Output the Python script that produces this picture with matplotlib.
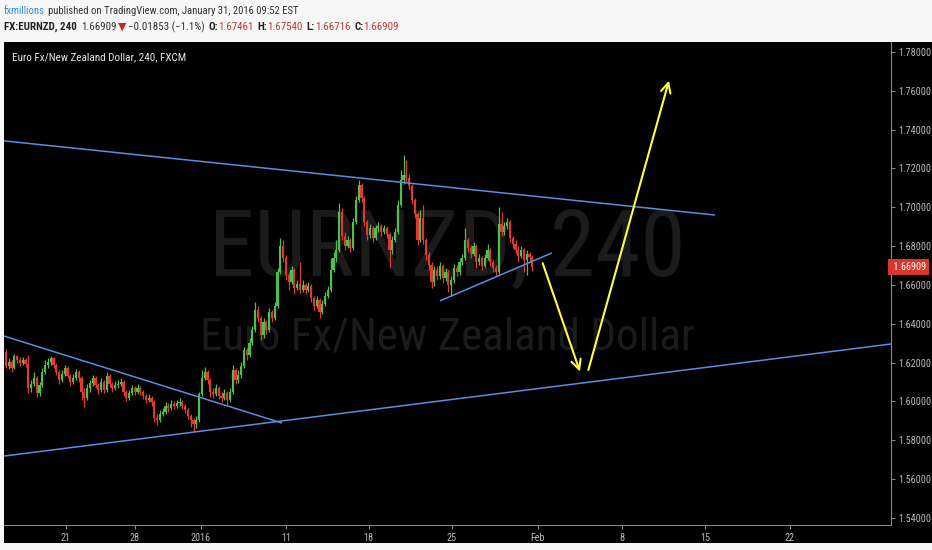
import matplotlib
matplotlib.use('Agg')
import matplotlib.pyplot as plt
import matplotlib.font_manager as fm
from matplotlib.transforms import blended_transform_factory

# ---------------- data ----------------
first_open = 1.6255
close = [
    1.6183, 1.6203, 1.6173, 1.6234, 1.6214, 1.6198, 1.6214, 1.6193, 1.6070, 1.6090,
    1.6121, 1.6044, 1.6085, 1.6152, 1.6188, 1.6203, 1.6224, 1.6188, 1.6152, 1.6111,
    1.6142, 1.6173, 1.6131, 1.6100, 1.6121, 1.6152, 1.6121, 1.6049, 1.6018, 1.6070,
    1.6095, 1.6121, 1.6085, 1.6059, 1.6100, 1.6059, 1.6131, 1.6090, 1.6070, 1.6085,
    1.6090, 1.6100, 1.6049, 1.6018, 1.6044, 1.6070, 1.6049, 1.6070, 1.6049, 1.6028,
    1.6008, 1.6018, 1.5997, 1.5915, 1.5905, 1.5936, 1.5946, 1.5977, 1.5967, 1.5987,
    1.5977, 1.5992, 1.5997, 1.5977, 1.5956, 1.5925, 1.5905, 1.5884, 1.5905, 1.6039,
    1.6121, 1.6152, 1.6111, 1.6049, 1.6039, 1.6070, 1.6028, 1.6018, 1.6044, 1.6008,
    1.6049, 1.6162, 1.6111, 1.6136, 1.6183, 1.6265, 1.6239, 1.6301, 1.6368, 1.6471,
    1.6430, 1.6342, 1.6409, 1.6368, 1.6461, 1.6430, 1.6492, 1.6667, 1.6801, 1.6739,
    1.6652, 1.6615, 1.6677, 1.6585, 1.6605, 1.6574, 1.6600, 1.6574, 1.6595, 1.6533,
    1.6492, 1.6523, 1.6461, 1.6502, 1.6543, 1.6574, 1.6677, 1.6739, 1.6780, 1.6976,
    1.6852, 1.6801, 1.6832, 1.6791, 1.6924, 1.7038, 1.7115, 1.7048, 1.6924, 1.6857,
    1.6894, 1.6842, 1.6894, 1.6904, 1.6873, 1.6894, 1.6863, 1.6780, 1.6832, 1.6873,
    1.7012, 1.7141, 1.7166, 1.7151, 1.7110, 1.7038, 1.6966, 1.6832, 1.6945, 1.6832,
    1.6754, 1.6703, 1.6615, 1.6677, 1.6646, 1.6698, 1.6636, 1.6667, 1.6600, 1.6626,
    1.6688, 1.6667, 1.6718, 1.6739, 1.6832, 1.6791, 1.6760, 1.6801, 1.6718, 1.6739,
    1.6698, 1.6739, 1.6780, 1.6718, 1.6688, 1.6667, 1.6914, 1.6873, 1.6904, 1.6924,
    1.6842, 1.6811, 1.6780, 1.6749, 1.6780, 1.6729, 1.6760, 1.67461, 1.66909,
]
high = [
    1.6270, 1.6224, 1.6214, 1.6245, 1.6239, 1.6229, 1.6229, 1.6224, 1.6239, 1.6111,
    1.6152, 1.6131, 1.6100, 1.6173, 1.6214, 1.6224, 1.6234, 1.6229, 1.6198, 1.6162,
    1.6162, 1.6188, 1.6183, 1.6142, 1.6142, 1.6167, 1.6162, 1.6131, 1.6070, 1.6090,
    1.6111, 1.6136, 1.6131, 1.6095, 1.6121, 1.6111, 1.6152, 1.6142, 1.6100, 1.6105,
    1.6111, 1.6121, 1.6111, 1.6059, 1.6059, 1.6085, 1.6080, 1.6090, 1.6080, 1.6059,
    1.6039, 1.6039, 1.6028, 1.6008, 1.5936, 1.5956, 1.5967, 1.5997, 1.5992, 1.6008,
    1.6003, 1.6008, 1.6018, 1.6008, 1.5987, 1.5967, 1.5936, 1.5915, 1.5925, 1.6049,
    1.6162, 1.6178, 1.6162, 1.6121, 1.6070, 1.6090, 1.6080, 1.6049, 1.6065, 1.6054,
    1.6070, 1.6188, 1.6173, 1.6162, 1.6203, 1.6281, 1.6275, 1.6327, 1.6389, 1.6512,
    1.6492, 1.6440, 1.6430, 1.6420, 1.6482, 1.6471, 1.6512, 1.6688, 1.6842, 1.6832,
    1.6754, 1.6667, 1.6698, 1.6688, 1.6626, 1.6718, 1.6626, 1.6610, 1.6615, 1.6605,
    1.6543, 1.6543, 1.6533, 1.6523, 1.6564, 1.6595, 1.6739, 1.6770, 1.6832, 1.7022,
    1.6997, 1.6873, 1.6852, 1.6842, 1.6945, 1.7058, 1.7141, 1.7125, 1.7058, 1.6935,
    1.6914, 1.6904, 1.6909, 1.6924, 1.6914, 1.6909, 1.6904, 1.6873, 1.6852, 1.6894,
    1.7038, 1.7192, 1.7270, 1.7244, 1.7172, 1.7120, 1.7048, 1.6976, 1.6986, 1.7012,
    1.6842, 1.6770, 1.6718, 1.6698, 1.6698, 1.6718, 1.6708, 1.6688, 1.6677, 1.6646,
    1.6708, 1.6703, 1.6739, 1.6760, 1.6894, 1.6842, 1.6806, 1.6821, 1.6811, 1.6760,
    1.6749, 1.6760, 1.6811, 1.6791, 1.6729, 1.6703, 1.7002, 1.6976, 1.6924, 1.6945,
    1.6935, 1.6852, 1.6832, 1.6801, 1.6801, 1.6791, 1.6780, 1.6770, 1.6754,
]
low = [
    1.6173, 1.6167, 1.6152, 1.6167, 1.6198, 1.6183, 1.6188, 1.6178, 1.6044, 1.6049,
    1.6080, 1.6023, 1.6028, 1.6075, 1.6142, 1.6173, 1.6188, 1.6173, 1.6136, 1.6090,
    1.6100, 1.6131, 1.6121, 1.6080, 1.6090, 1.6111, 1.6100, 1.6008, 1.5972, 1.6008,
    1.6049, 1.6080, 1.6070, 1.6039, 1.6049, 1.6044, 1.6049, 1.6075, 1.6049, 1.6059,
    1.6070, 1.6080, 1.6028, 1.6003, 1.6008, 1.6034, 1.6034, 1.6039, 1.6034, 1.6013,
    1.5992, 1.5997, 1.5977, 1.5894, 1.5879, 1.5894, 1.5925, 1.5936, 1.5946, 1.5956,
    1.5961, 1.5967, 1.5977, 1.5961, 1.5941, 1.5910, 1.5868, 1.5843, 1.5864, 1.5894,
    1.6028, 1.6111, 1.6090, 1.6023, 1.6018, 1.6028, 1.6013, 1.5997, 1.6008, 1.5982,
    1.5997, 1.6039, 1.6090, 1.6095, 1.6121, 1.6173, 1.6214, 1.6229, 1.6291, 1.6358,
    1.6409, 1.6317, 1.6327, 1.6348, 1.6358, 1.6409, 1.6420, 1.6482, 1.6657, 1.6718,
    1.6626, 1.6574, 1.6605, 1.6554, 1.6574, 1.6559, 1.6564, 1.6554, 1.6564, 1.6512,
    1.6471, 1.6482, 1.6430, 1.6451, 1.6492, 1.6533, 1.6564, 1.6667, 1.6718, 1.6770,
    1.6832, 1.6780, 1.6791, 1.6770, 1.6780, 1.6914, 1.7027, 1.7027, 1.6904, 1.6832,
    1.6842, 1.6821, 1.6832, 1.6873, 1.6852, 1.6863, 1.6842, 1.6688, 1.6760, 1.6821,
    1.6863, 1.7002, 1.7120, 1.7130, 1.7089, 1.7017, 1.6945, 1.6806, 1.6821, 1.6811,
    1.6729, 1.6677, 1.6585, 1.6595, 1.6626, 1.6631, 1.6610, 1.6621, 1.6564, 1.6543,
    1.6610, 1.6646, 1.6652, 1.6703, 1.6729, 1.6770, 1.6739, 1.6749, 1.6688, 1.6703,
    1.6677, 1.6688, 1.6729, 1.6698, 1.6667, 1.6646, 1.6657, 1.6852, 1.6857, 1.6889,
    1.6821, 1.6791, 1.6760, 1.6718, 1.6739, 1.6667, 1.6652, 1.6718, 1.66716,
]

xtick_pos = [21.4, 46.1, 69.6, 100.0, 129.6, 159.3, 190.0, 220.0, 249.6, 280.0]
xtick_labels = ['21', '28', '2016', '11', '18', '25', 'Feb', '8', '15', '22']
ytick_vals = [1.54, 1.56, 1.58, 1.60, 1.62, 1.64, 1.66, 1.68, 1.70, 1.72, 1.74, 1.76, 1.78]
last_price = 1.66909

# drawings (bar index, price)
upper_line = [(-0.7, 1.7342), (253.2, 1.6960)]
triangle_line = [(155.0, 1.6518), (195.0, 1.6765)]
falling_line = [(-0.7, 1.6337), (98.6, 1.5889)]
support_line = [(-0.7, 1.5719), (316.1, 1.6296)]
arrow_down = [(191.7, 1.6712), (205.0, 1.6154)]
arrow_up = [(208.0, 1.6162), (236.8, 1.7652)]

header1 = [("fxmillions", '#2f8fd8', 'normal', 3),
           ("published on TradingView.com, January 31, 2016 09:52 EST", '#333333', 'normal', 0)]
header2 = [("FX:EURNZD, 240", '#222222', 'bold', 4),
           ("1.66909", '#333333', 'normal', 2),
           ("\u25BC", '#c8271f', 'normal', 1),
           ("\u22120.01853 (\u22121.1%)", '#333333', 'normal', 4),
           ("O:", '#222222', 'bold', 0), ("1.67461", '#c23b32', 'normal', 4),
           ("H:", '#222222', 'bold', 0), ("1.67540", '#c23b32', 'normal', 4),
           ("L:", '#222222', 'bold', 0), ("1.66716", '#c23b32', 'normal', 4),
           ("C:", '#222222', 'bold', 0), ("1.66909", '#c23b32', 'normal', 0)]
title_text = "Euro Fx/New Zealand Dollar, 240, FXCM"
wm1 = "EURNZD, 240"
wm2 = "Euro Fx/New Zealand Dollar"

# ---------------- style ----------------
names = {f.name for f in fm.fontManager.ttflist}
condensed = sorted({f.name for f in fm.fontManager.ttflist
                    if str(f.stretch) in ('condensed', 'semi-condensed', '75', '87')})
FONT = None
for cand in ['Liberation Sans Narrow', 'Roboto Condensed', 'Open Sans Condensed',
             'Noto Sans Condensed', 'Noto Sans']:
    if cand in names and (cand != 'Noto Sans' or 'Noto Sans' in condensed):
        FONT = cand
        break
if FONT is None:
    FONT = 'Liberation Sans'
plt.rcParams['font.family'] = [FONT, 'DejaVu Sans']
if FONT == 'Noto Sans':
    plt.rcParams['font.stretch'] = 'condensed'

W, H = 932, 550
UP, DOWN = '#4cbf4c', '#e0392e'
BLUE, YEL = '#5b8ee0', '#ffff3b'

fig = plt.figure(figsize=(W / 100, H / 100), dpi=100, facecolor='#f7f7f7')
renderer = fig.canvas.get_renderer()

# black panel behind everything
bg = fig.add_axes([4 / W, 7 / H, 928 / W, 501 / H], zorder=-5)
bg.set_facecolor('black')
bg.set_xticks([])
bg.set_yticks([])
for s in bg.spines.values():
    s.set_visible(False)

ax = fig.add_axes([4 / W, 25 / H, 887 / W, 483 / H], zorder=1)
ax.set_facecolor('black')
ax.set_xlim(-0.7, 316.1)
ax.set_ylim(1.5364, 1.7851)

# candles
opens = [first_open] + close[:-1]
idx = list(range(len(close)))
cols = [UP if c >= o else DOWN for o, c in zip(opens, close)]
ax.vlines(idx, low, high, colors=cols, lw=0.9, zorder=3)
bottoms = [min(o, c) for o, c in zip(opens, close)]
heights = [max(abs(c - o), 0.0003) for o, c in zip(opens, close)]
ax.bar(idx, heights, bottom=bottoms, width=0.78, color=cols, linewidth=0, zorder=4)

# trend lines
for ln in (upper_line, triangle_line, falling_line, support_line):
    ax.plot([p[0] for p in ln], [p[1] for p in ln], color=BLUE, lw=1.1, zorder=5,
            solid_capstyle='butt')

for ar in (arrow_down, arrow_up):
    ax.annotate('', xy=ar[1], xytext=ar[0],
                arrowprops=dict(arrowstyle='->,head_length=0.7,head_width=0.35',
                                color=YEL, lw=1.5, shrinkA=0, shrinkB=0), zorder=6)

# axes styling
for s in ('left', 'top'):
    ax.spines[s].set_visible(False)
for s in ('right', 'bottom'):
    ax.spines[s].set_color('#8a8a8a')
    ax.spines[s].set_linewidth(0.8)
ax.yaxis.tick_right()
ax.set_yticks(ytick_vals)
ax.set_yticklabels(['%.5f' % v for v in ytick_vals])
ax.set_xticks(xtick_pos)
ax.set_xticklabels(xtick_labels)
ax.tick_params(axis='both', colors='#8a8a8a', labelcolor='#b8b8b8', labelsize=7.5,
               length=3, width=0.8, direction='out')
ax.tick_params(axis='y', pad=2)
ax.tick_params(axis='x', pad=3)
for lab in ax.get_yticklabels():
    fitw = lab.get_window_extent(renderer).width
    if fitw > 33:
        lab.set_fontsize(7.5 * 33 / fitw)
for lab in ax.get_xticklabels():
    lab.set_fontsize(ax.get_yticklabels()[0].get_fontsize())

# last price tag
tr = blended_transform_factory(ax.transAxes, ax.transData)
tag = ax.text(1.0, last_price, ' %.5f' % last_price, transform=tr, ha='left', va='center',
              fontsize=ax.get_yticklabels()[0].get_fontsize(), color='white', clip_on=False,
              zorder=10, bbox=dict(boxstyle='square,pad=0.3', fc='#d8362b', ec='none'))


def fit_text(obj, target_w):
    bb = obj.get_window_extent(renderer)
    obj.set_fontsize(obj.get_fontsize() * target_w / bb.width)


# watermarks
t1 = ax.text(0.5, (525 - 250) / 483, wm1, transform=ax.transAxes, ha='center', va='center',
             fontsize=70, color='#1b1b1b', zorder=1)
fit_text(t1, 477)
t2 = ax.text(0.5, (525 - 337) / 483, wm2, transform=ax.transAxes, ha='center', va='center',
             fontsize=36, color='#1b1b1b', zorder=1)
fit_text(t2, 495)

# chart title inside panel
tt = fig.text(12 / W, 1 - 57 / H, title_text, color='#e6e6e6', fontsize=9,
              ha='left', va='center', zorder=3)
fit_text(tt, 174)


def write_line(pieces, x0, yc, size, target):
    def place(sz):
        objs, x = [], x0
        for txt, color, weight, gap in pieces:
            t = fig.text(x / W, 1 - yc / H, txt, color=color, fontsize=sz,
                         fontweight=weight, ha='left', va='center')
            x += t.get_window_extent(renderer).width + gap
            objs.append(t)
        return objs, x - x0
    objs, w = place(size)
    for o in objs:
        o.remove()
    place(size * target / w)


write_line(header1, 4, 11, 9, 296)
write_line(header2, 4, 27, 9, 393)

fig.savefig('out.png', dpi=100, facecolor=fig.get_facecolor())
